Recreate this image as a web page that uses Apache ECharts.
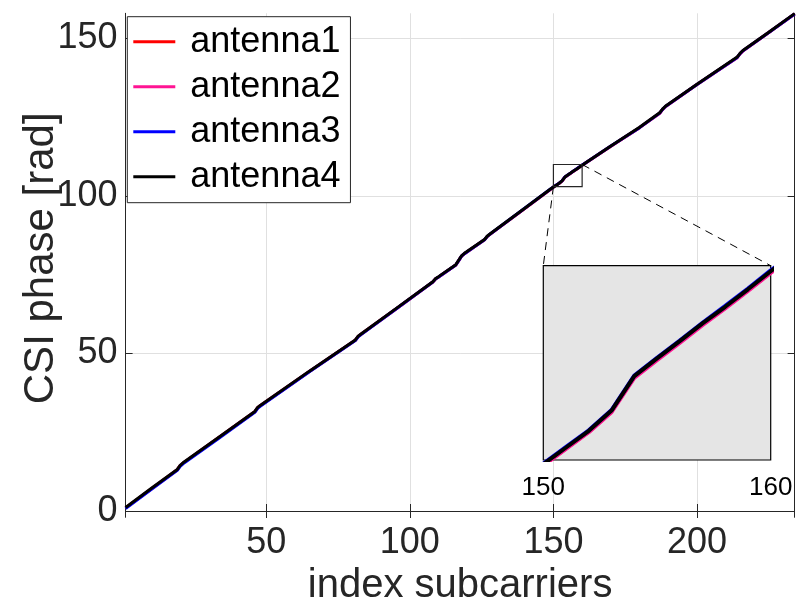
<!DOCTYPE html>
<html>
<head>
<meta charset="utf-8">
<script src="https://cdn.jsdelivr.net/npm/echarts@6/dist/echarts.min.js"></script>
<style>
  html, body { margin: 0; padding: 0; background: #fff; }
  #chart { width: 796px; height: 603px; }
</style>
</head>
<body>
<div id="chart"></div>
<script>
const xs = [1, 10, 19, 20, 21, 33, 46, 47, 48, 65, 81, 82, 83, 96, 108, 109, 110, 116, 117, 118, 119,
  126, 127, 128, 140, 149, 150, 151, 152, 153, 154, 155, 156, 157, 158, 159, 160, 161,
  170, 180, 187, 188, 189, 200, 214, 215, 216, 225, 234];

const antenna1 = [1.0, 7.1, 13.1, 14.4, 15.2, 23.0, 31.5, 32.8, 33.5, 44.3, 54.2, 55.4, 56.1, 64.7, 72.7, 73.7, 74.3, 78.1, 79.5, 80.9, 81.7,
  86.1, 87.2, 87.9, 96.0, 102.1, 102.82, 103.42, 104.02, 104.75, 105.99, 106.63, 107.25, 107.89, 108.49, 109.12, 109.77, 110.37,
  115.8, 121.7, 126.3, 127.5, 128.4, 135.4, 144.0, 145.2, 146.1, 151.9, 157.8];
const antenna2 = [1.0, 7.0, 13.1, 14.4, 15.2, 23.0, 31.5, 32.8, 33.5, 44.3, 54.2, 55.4, 56.1, 64.7, 72.7, 73.7, 74.3, 78.1, 79.5, 80.9, 81.7,
  86.1, 87.2, 87.9, 96.0, 102.1, 102.8, 103.4, 104.0, 104.72, 105.96, 106.6, 107.22, 107.86, 108.46, 109.09, 109.74, 110.34,
  115.8, 121.7, 126.2, 127.4, 128.3, 135.4, 143.9, 145.1, 146.0, 151.9, 157.8];
const antenna3 = [0.8, 6.9, 12.9, 14.2, 15.0, 22.8, 31.3, 32.6, 33.3, 44.2, 54.1, 55.3, 56.0, 64.7, 72.7, 73.7, 74.3, 78.1, 79.5, 80.9, 81.7,
  86.1, 87.2, 87.95, 96.1, 102.2, 102.87, 103.47, 104.07, 104.8, 106.04, 106.68, 107.3, 107.94, 108.55, 109.18, 109.83, 110.43,
  115.9, 121.7, 126.3, 127.5, 128.4, 135.4, 144.0, 145.2, 146.1, 151.9, 157.8];
const antenna4 = [1.1, 7.2, 13.2, 14.5, 15.3, 23.1, 31.6, 32.9, 33.6, 44.4, 54.3, 55.5, 56.2, 64.8, 72.8, 73.8, 74.4, 78.2, 79.6, 81.0, 81.8,
  86.2, 87.3, 88.0, 96.1, 102.2, 102.85, 103.45, 104.05, 104.78, 106.02, 106.66, 107.28, 107.92, 108.52, 109.15, 109.8, 110.4,
  115.9, 121.8, 126.4, 127.6, 128.5, 135.5, 144.1, 145.3, 146.2, 152.0, 157.9];

const names = ['antenna1', 'antenna2', 'antenna3', 'antenna4'];
const colors = ['#ff0000', '#ff1493', '#0000ff', '#000000'];
const phases = [antenna1, antenna2, antenna3, antenna4];

const xTicks = [50, 100, 150, 200];
const yTicks = [0, 50, 100, 150];
const insetTicks = [150, 160];
// zoomed window [x0, x1, y0, y1]
const zoomBox = [150, 160, 103, 110];

const font = 'Liberation Sans, Arial, Helvetica, sans-serif';
const axisColor = '#262626';

function pairs(ys) {
  return xs.map((x, i) => [x, ys[i]]);
}

let series = [];
phases.forEach((ys, i) => {
  series.push({
    name: names[i], type: 'line', xAxisIndex: 0, yAxisIndex: 0,
    data: pairs(ys), showSymbol: false, z: 2,
    itemStyle: { color: colors[i] },
    lineStyle: { color: colors[i], width: 3 }
  });
});
phases.forEach((ys, i) => {
  series.push({
    name: names[i], type: 'line', xAxisIndex: 2, yAxisIndex: 2,
    data: pairs(ys), showSymbol: false, z: 5,
    itemStyle: { color: colors[i] },
    lineStyle: { color: colors[i], width: 4 }
  });
});

const chart = echarts.init(document.getElementById('chart'));

const option = {
  animation: false,
  backgroundColor: '#fff',
  textStyle: { fontFamily: font },
  grid: [
    { left: 125.6, right: 1.4, top: 13.3, bottom: 85.7, outerBoundsMode: 'none', containLabel: false },
    { left: 543.3, top: 265.7, width: 227.4, height: 194.3, show: true, outerBoundsMode: 'none', containLabel: false,
      backgroundColor: '#e5e5e5', borderColor: '#000', borderWidth: 1.2, z: 3 }
  ],
  legend: {
    data: names, orient: 'vertical', left: 127.3, top: 16.7,
    icon: 'rect', itemWidth: 42, itemHeight: 3, itemGap: 0,
    padding: [2.5, 10, 3.5, 6],
    backgroundColor: '#fff', borderColor: axisColor, borderWidth: 1,
    textStyle: { fontSize: 36, lineHeight: 45, color: '#000', fontFamily: font, padding: [0, 0, 0, 10] }
  },
  xAxis: [
    {
      type: 'value', gridIndex: 0, position: 'bottom', min: 1, max: 234,
      name: 'index subcarriers', nameLocation: 'middle', nameGap: 43,
      nameTextStyle: { fontSize: 40, color: axisColor, fontFamily: font },
      axisLine: { lineStyle: { color: axisColor, width: 1 } },
      axisTick: { inside: true, length: 7, customValues: xTicks, lineStyle: { color: axisColor } },
      axisLabel: { customValues: xTicks, fontSize: 36, color: axisColor, margin: 8, fontFamily: font },
      splitLine: { show: true, lineStyle: { color: '#e0e0e0', width: 1 } }
    },
    {
      type: 'value', gridIndex: 0, position: 'top', min: 1, max: 234,
      axisLine: { lineStyle: { color: axisColor, width: 1 } },
      axisTick: { inside: true, length: 7, customValues: xTicks, lineStyle: { color: axisColor } },
      axisLabel: { show: false },
      splitLine: { show: false }
    },
    {
      type: 'value', gridIndex: 1, min: zoomBox[0], max: zoomBox[1], z: 3,
      axisLine: { show: false },
      axisTick: { show: false },
      axisLabel: { customValues: insetTicks, fontSize: 26, color: '#000', margin: 15, fontFamily: font },
      splitLine: { show: false }
    }
  ],
  yAxis: [
    {
      type: 'value', gridIndex: 0, position: 'left', min: -2, max: 158,
      name: 'CSI phase [rad]', nameLocation: 'middle', nameGap: 63, nameMoveOverlap: false,
      nameTextStyle: { fontSize: 42, color: axisColor, fontFamily: font, padding: [0, 0, 0, 14] },
      axisLine: { show: true, lineStyle: { color: axisColor, width: 1 } },
      axisTick: { show: true, inside: true, length: 7, customValues: yTicks, lineStyle: { color: axisColor } },
      axisLabel: { customValues: yTicks, fontSize: 36, color: axisColor, margin: 8, fontFamily: font,
        padding: [6, 0, 0, 0] },
      splitLine: { show: true, lineStyle: { color: '#e0e0e0', width: 1 } }
    },
    {
      type: 'value', gridIndex: 0, position: 'right', min: -2, max: 158,
      axisLine: { show: true, lineStyle: { color: axisColor, width: 1 } },
      axisTick: { show: true, inside: true, length: 7, customValues: yTicks, lineStyle: { color: axisColor } },
      axisLabel: { show: false },
      splitLine: { show: false }
    },
    {
      type: 'value', gridIndex: 1, min: zoomBox[2], max: zoomBox[3], z: 3,
      axisLine: { show: false },
      axisTick: { show: false },
      axisLabel: { show: false },
      splitLine: { show: false }
    }
  ],
  series: series
};

chart.setOption(option);

// zoom rectangle on the main axes and the dashed leaders to the inset
const a = chart.convertToPixel({ gridIndex: 0 }, [zoomBox[0], zoomBox[2]]);
const b = chart.convertToPixel({ gridIndex: 0 }, [zoomBox[1], zoomBox[3]]);
const c = chart.convertToPixel({ gridIndex: 1 }, [zoomBox[0], zoomBox[3]]);
const d = chart.convertToPixel({ gridIndex: 1 }, [zoomBox[1], zoomBox[3]]);

chart.setOption({
  graphic: [
    { type: 'rect', z: 10, silent: true,
      shape: { x: a[0], y: b[1], width: b[0] - a[0], height: a[1] - b[1] },
      style: { fill: 'none', stroke: axisColor, lineWidth: 1.2 } },
    { type: 'line', z: 10, silent: true,
      shape: { x1: a[0], y1: a[1], x2: c[0], y2: c[1] },
      style: { stroke: '#000', lineWidth: 1, lineDash: [8, 6] } },
    { type: 'line', z: 10, silent: true,
      shape: { x1: b[0], y1: b[1], x2: d[0], y2: d[1] },
      style: { stroke: '#000', lineWidth: 1, lineDash: [8, 6] } }
  ]
});
</script>
</body>
</html>
